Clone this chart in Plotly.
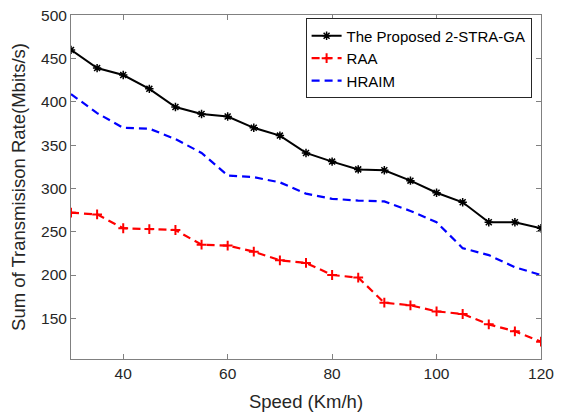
import plotly.graph_objects as go

speed = [30, 35, 40, 45, 50, 55, 60, 65, 70, 75, 80, 85, 90, 95, 100, 105, 110, 115, 120]
proposed = [460, 439, 431, 415, 394, 386, 383, 370, 361, 341, 331, 322, 321, 309, 295, 284, 261, 261, 254]
raa = [272, 270, 254, 253, 252, 235, 234, 227, 217, 214, 200, 197, 168, 165, 158, 155, 143, 135, 123]
hraim = [409, 387, 370, 369, 357, 341, 315, 313, 307, 294, 288, 286, 285, 274, 261, 231, 223, 209, 200]
x_ticks = [40, 60, 80, 100, 120]
y_ticks = [150, 200, 250, 300, 350, 400, 450, 500]

FONT = "Liberation Sans, Arial, sans-serif"

fig = go.Figure()
fig.add_trace(go.Scatter(
    x=speed, y=proposed, mode="lines+markers", name="The Proposed 2-STRA-GA",
    line=dict(color="black", width=2),
    marker=dict(symbol="asterisk-open", size=7, color="black", line=dict(width=1.5, color="black"))))
fig.add_trace(go.Scatter(
    x=speed, y=raa, mode="lines+markers", name="RAA",
    line=dict(color="#ff0000", width=2.2, dash="8px,5px"),
    marker=dict(symbol="cross-thin-open", size=7, color="#ff0000", line=dict(width=2, color="#ff0000"))))
fig.add_trace(go.Scatter(
    x=speed, y=hraim, mode="lines", name="HRAIM",
    line=dict(color="#0000ff", width=2.2, dash="8px,5px")))

axis_common = dict(
    showgrid=False, zeroline=False, showline=True, linecolor="#808080", linewidth=1,
    mirror="ticks", ticks="inside", ticklen=5, tickcolor="#808080", automargin=False,
    ticklabeloverflow="allow",
    tickfont=dict(family=FONT, size=15.5, color="#262626"),
)

# page body has an 8px default margin, so the figure is sized to fit the window
fig.update_layout(
    width=557, height=408,
    margin=dict(l=62.5, r=23.5, t=7, b=57, autoexpand=False),
    paper_bgcolor="white", plot_bgcolor="white",
    font=dict(family=FONT, color="#262626"),
    xaxis=dict(range=[30, 120], tickvals=x_ticks,
               title=dict(text="Speed (Km/h)", font=dict(family=FONT, size=18.5, color="#262626"), standoff=14),
               **axis_common),
    yaxis=dict(range=[103, 500.3], tickvals=y_ticks,
               title=dict(text="Sum of Transmisison Rate(Mbits/s)", font=dict(family=FONT, size=18.5, color="#262626"), standoff=20),
               **axis_common),
    legend=dict(x=0.98, y=0.99, xanchor="right", yanchor="top",
                bordercolor="#262626", borderwidth=1, bgcolor="white",
                font=dict(family=FONT, size=15, color="black"), tracegroupgap=0,
                itemwidth=30),
    showlegend=True,
)

fig.write_html("out.html")
